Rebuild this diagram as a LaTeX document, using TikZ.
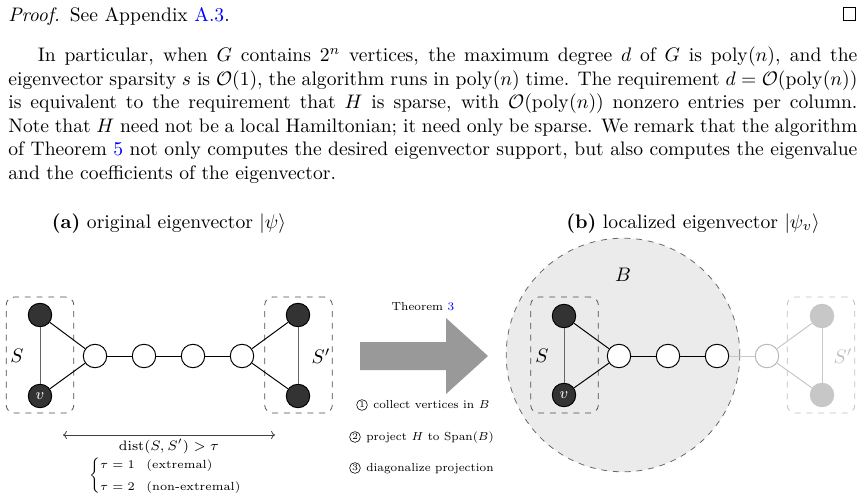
\documentclass[tikz,border=0pt]{standalone}
\usepackage{amsmath}
\usetikzlibrary{arrows.meta}
\begin{document}
\begin{tikzpicture}[x=0.5107pt,y=-0.5107pt,
  vtx/.style={circle,draw=black,line width=0.5pt,minimum size=12pt,inner sep=0pt},
  dark/.style={vtx,fill=black!80},
  lite/.style={vtx,fill=white},
  fadedark/.style={vtx,draw=black!22,fill=black!22},
  fadelite/.style={vtx,draw=black!28,fill=white},
  edge/.style={line width=0.5pt,draw=black},
  vedge/.style={line width=0.5pt,draw=black!60},
  fedge/.style={line width=0.5pt,draw=black!22},
  setbox/.style={draw=black!70,dashed,rounded corners=4pt,minimum width=34.5pt,minimum height=59.2pt,inner sep=0pt,line width=0.4pt},
  fadebox/.style={setbox,draw=black!25},
  smalltext/.style={font=\scriptsize},
  steptext/.style={font=\scriptsize,scale=0.85,transform shape,inner sep=0pt},
  circnum/.style={circle,draw,line width=0.3pt,minimum size=5.5pt,inner sep=0pt,font=\fontsize{4.5}{5}\selectfont},
]
\useasboundingbox (0,0) rectangle (862,495);
% ---------- text above ----------
\node[anchor=base west,inner sep=0pt] (proof) at (8,21) {\textit{Proof.}\enspace See Appendix \textcolor{blue}{A.3}.};
\node[draw,line width=0.4pt,minimum size=6.4pt,inner sep=0pt,anchor=south east] (qed) at (856,20.7) {};
\node[anchor=base west,inner sep=0pt,text width=433.6pt,align=justify] (para) at (8,61.7)
{\hspace*{15pt}In particular, when $G$ contains $2^n$ vertices, the maximum degree $d$ of $G$ is $\mathrm{poly}(n)$, and the eigenvector sparsity $s$ is $\mathcal{O}(1)$, the algorithm runs in $\mathrm{poly}(n)$ time. The requirement $d=\mathcal{O}(\mathrm{poly}(n))$ is equivalent to the requirement that $H$ is sparse, with $\mathcal{O}(\mathrm{poly}(n))$ nonzero entries per column.\linebreak Note that $H$ need not be a local Hamiltonian; it need only be sparse. We remark that the algorithm\linebreak of Theorem \textcolor{blue}{5} not only computes the desired eigenvector support, but also computes the eigenvalue\linebreak and the coefficients of the eigenvector.};
% ---------- titles ----------
\node[anchor=base] (ta) at (169,228) {\textbf{(a)} original eigenvector $|\psi\rangle$};
\node[anchor=base] (tb) at (693,228) {\textbf{(b)} localized eigenvector $|\psi_v\rangle$};
% ---------- left graph ----------
\node[setbox] (Sbox) at (40,355) {};
\node[setbox] (Spbox) at (298.5,355) {};
\node (Slab) at (17,356) {$S$};
\node (Splab) at (321,356) {$S'$};
\node[dark] (a1) at (40,315) {};
\node[dark,text=white,font=\footnotesize] (a2) at (40,396) {$v$};
\node[lite] (w1) at (95,356) {};
\node[lite] (w2) at (144,356) {};
\node[lite] (w3) at (193,356) {};
\node[lite] (w4) at (242,356) {};
\node[dark] (a3) at (298,315) {};
\node[dark] (a4) at (298,396) {};
\draw[vedge] (a1) -- (a2);
\draw[edge] (a1) -- (w1);
\draw[edge] (a2) -- (w1);
\draw[edge] (w1) -- (w2);
\draw[edge] (w2) -- (w3);
\draw[edge] (w3) -- (w4);
\draw[edge] (w4) -- (a3);
\draw[edge] (w4) -- (a4);
\draw[vedge] (a3) -- (a4);
% distance
\coordinate (dl) at (63,435);
\coordinate (dr) at (275,435);
\draw[{To[length=2pt]}-{To[length=2pt]},draw=black!75,line width=0.4pt] (dl) -- (dr);
\node[anchor=base,smalltext] (dist) at (169,450) {$\mathrm{dist}(S,S')>\tau$};
\node[font=\fontsize{6.0}{7.2}\selectfont] (cases) at (166,476) {$\begin{cases}\tau=1 & \text{(extremal)}\\[2.6pt] \tau=2 & \text{(non-extremal)}\end{cases}$};
% ---------- big arrow ----------
\fill[black!40] (360,342) -- (446,342) -- (446,318) -- (488,356) -- (446,394) -- (446,370) -- (360,370) -- cycle;
\node[anchor=base,steptext] (thm) at (423,310) {Theorem \textcolor{blue}{3}};
\node[circnum] (c1) at (362,405) {1};
\node[anchor=base west,steptext] (st1) at (373,408) {collect vertices in $B$};
\node[circnum] (c2) at (355,437) {2};
\node[anchor=base west,steptext] (st2) at (366,440) {project $H$ to $\mathrm{Span}(B)$};
\node[circnum] (c3) at (355,468) {3};
\node[anchor=base west,steptext] (st3) at (366,471) {diagonalize projection};
% ---------- right graph ----------
\node[circle,minimum size=119.3pt,inner sep=0pt,fill=black!8,draw=black!60,dashed,line width=0.4pt] (ball) at (623,355) {};
\node (Blab) at (623,275) {$B$};
\node[setbox] (Sbox2) at (564.5,355) {};
\node[fadebox] (Spbox2) at (821,355) {};
\node (Slab2) at (542,356) {$S$};
\node[text=black!25] (Splab2) at (843,356) {$S'$};
\node[dark] (b1) at (564,316) {};
\node[dark,text=white,font=\footnotesize] (b2) at (564,395) {$v$};
\node[lite] (u1) at (619,356) {};
\node[lite] (u2) at (668,356) {};
\node[lite] (u3) at (717,356) {};
\node[fadelite] (u4) at (767,356) {};
\node[fadedark] (b3) at (822,316) {};
\node[fadedark] (b4) at (822,395) {};
\draw[vedge] (b1) -- (b2);
\draw[edge] (b1) -- (u1);
\draw[edge] (b2) -- (u1);
\draw[edge] (u1) -- (u2);
\draw[edge] (u2) -- (u3);
\draw[fedge] (u3) -- (u4);
\draw[fedge] (u4) -- (b3);
\draw[fedge] (u4) -- (b4);
\draw[fedge] (b3) -- (b4);
\end{tikzpicture}
\end{document}
